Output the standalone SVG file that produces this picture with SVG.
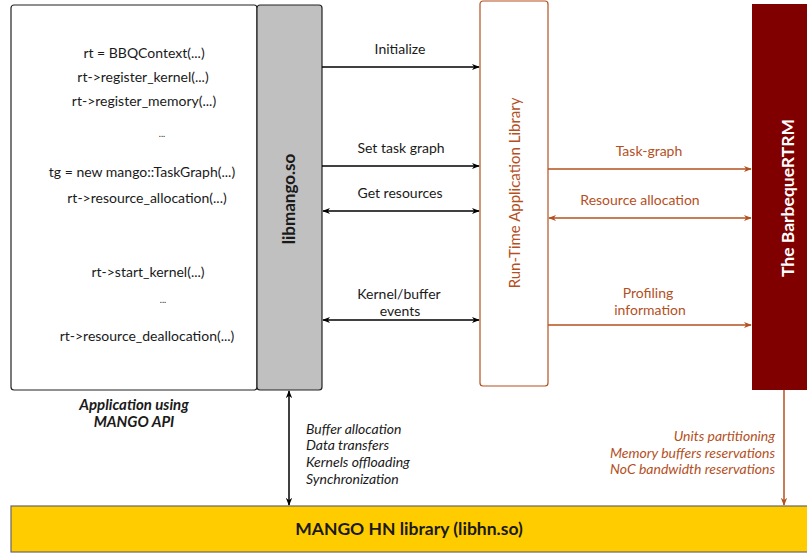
<svg xmlns="http://www.w3.org/2000/svg" width="807" height="554" viewBox="0 0 807 554">
<style>
text{font-family:Lato,"Open Sans","Liberation Sans",sans-serif;font-size:14px;fill:#1a1a1a}
.c{text-anchor:middle}
.o{fill:#B4501E}
.it{font-style:italic}
.b{font-weight:bold}
.blk{stroke:#000;stroke-width:1.5;fill:none}
.brn{stroke:#B4501E;stroke-width:1.5;fill:none}
</style>
<defs>
<marker id="ak" viewBox="0 0 10 10" refX="9" refY="5" markerWidth="8" markerHeight="8" orient="auto-start-reverse" markerUnits="userSpaceOnUse"><path d="M0,1 L10,5 L0,9 L3,5 z" fill="#000"/></marker>
<marker id="ao" viewBox="0 0 10 10" refX="9" refY="5" markerWidth="8" markerHeight="8" orient="auto-start-reverse" markerUnits="userSpaceOnUse"><path d="M0,1 L10,5 L0,9 L3,5 z" fill="#B4501E"/></marker>
</defs>
<rect width="807" height="554" fill="#fff"/>
<g id="app">
<rect x="11" y="5" width="246" height="385" rx="3" fill="#fff" stroke="#222" stroke-width="1.2"/>
<text class="c" x="144" y="58">rt = BBQContext(...)</text>
<text class="c" x="143" y="82">rt-&gt;register_kernel(...)</text>
<text class="c" x="144" y="106">rt-&gt;register_memory(...)</text>
<text class="c" x="162" y="137" style="font-size:9px">...</text>
<text class="c" x="142" y="177">tg = new mango::TaskGraph(...)</text>
<text class="c" x="147" y="203">rt-&gt;resource_allocation(...)</text>
<text class="c" x="148" y="277">rt-&gt;start_kernel(...)</text>
<text class="c" x="163" y="303" style="font-size:9px">...</text>
<text class="c" x="147" y="341">rt-&gt;resource_deallocation(...)</text>
<text class="c it b" x="134" y="410" style="font-size:15px">Application using</text>
<text class="c it b" x="134" y="427" style="font-size:15px">MANGO API</text>
</g>
<g id="libmango">
<rect x="257" y="5" width="65" height="385" rx="3" fill="#C0C0C0" stroke="#222" stroke-width="1.2"/>
<text class="c b" transform="translate(295,199) rotate(-90)" style="font-size:17px">libmango.so</text>
</g>
<g id="rtlib">
<rect x="480" y="1" width="68" height="385" rx="3" fill="#fff" stroke="#B4501E" stroke-width="1.2"/>
<text class="c o" transform="translate(520,193) rotate(-90)" style="font-size:15px">Run-Time Application Library</text>
</g>
<g id="bbq">
<rect x="752" y="4" width="56" height="386" fill="#800000"/>
<text class="c b" transform="translate(794,198) rotate(-90)" style="font-size:17.5px;fill:#fff">The BarbequeRTRM</text>
</g>
<g id="hn">
<rect x="11" y="506" width="797" height="46" fill="#FFCC00" stroke="#666" stroke-width="1.2"/>
<text class="c b" x="409" y="535" style="font-size:17.5px">MANGO HN library (libhn.so)</text>
</g>
<g id="connectors">
<line class="blk" x1="322" y1="67" x2="479" y2="67" marker-end="url(#ak)"/>
<line class="blk" x1="322" y1="166" x2="479" y2="166" marker-end="url(#ak)"/>
<line class="blk" x1="323" y1="211" x2="479" y2="211" marker-start="url(#ak)" marker-end="url(#ak)"/>
<line class="blk" x1="323" y1="320" x2="479" y2="320" marker-start="url(#ak)" marker-end="url(#ak)"/>
<line class="blk" x1="289" y1="391" x2="289" y2="505" marker-start="url(#ak)" marker-end="url(#ak)"/>
<line class="brn" x1="548" y1="169" x2="751" y2="169" marker-end="url(#ao)"/>
<line class="brn" x1="549" y1="218" x2="751" y2="218" marker-start="url(#ao)" marker-end="url(#ao)"/>
<line class="brn" x1="548" y1="325" x2="751" y2="325" marker-end="url(#ao)"/>
<line class="brn" x1="784" y1="390" x2="784" y2="505" marker-end="url(#ao)"/>
</g>
<g id="labels">
<text class="c" x="400" y="54">Initialize</text>
<text class="c" x="401" y="153">Set task graph</text>
<text class="c" x="400" y="198">Get resources</text>
<text class="c" x="399" y="299">Kernel/buffer</text>
<text class="c" x="400" y="316">events</text>
<text class="c o" x="649" y="156">Task-graph</text>
<text class="c o" x="640" y="205">Resource allocation</text>
<text class="c o" x="648" y="298">Profiling</text>
<text class="c o" x="650" y="315">information</text>
<text class="it" x="306" y="434">Buffer allocation</text>
<text class="it" x="306" y="450">Data transfers</text>
<text class="it" x="306" y="467">Kernels offloading</text>
<text class="it" x="306" y="484">Synchronization</text>
<text class="it o" x="775" y="441" text-anchor="end">Units partitioning</text>
<text class="it o" x="775" y="458" text-anchor="end">Memory buffers reservations</text>
<text class="it o" x="775" y="474" text-anchor="end">NoC bandwidth reservations</text>
</g>
</svg>
